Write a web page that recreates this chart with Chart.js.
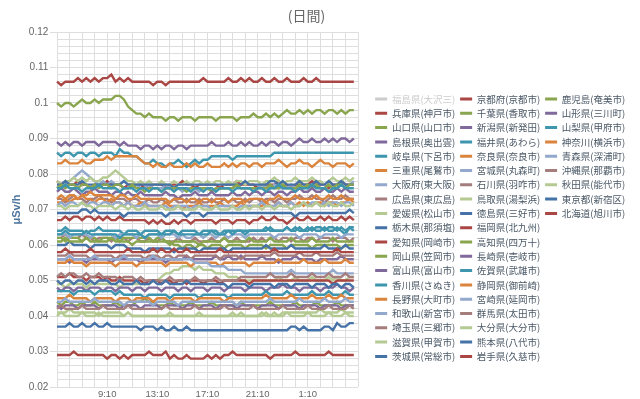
<!DOCTYPE html>
<html><head><meta charset="utf-8">
<script src="https://cdn.jsdelivr.net/npm/chart.js@4/dist/chart.umd.min.js"></script>
<style>html,body{margin:0;padding:0;background:#fff}canvas{display:block}</style>
</head><body>
<canvas id="c" width="640" height="399"></canvas>
<script>
const times = ['5:10','5:30','5:50','6:10','6:30','6:50','7:10','7:30','7:50','8:10','8:30','8:50',
'9:10','9:30','9:50','10:10','10:30','10:50','11:10','11:30','11:50','12:10','12:30','12:50',
'13:10','13:30','13:50','14:10','14:30','14:50','15:10','15:30','15:50','16:10','16:30','16:50',
'17:10','17:30','17:50','18:10','18:30','18:50','19:10','19:30','19:50','20:10','20:30','20:50',
'21:10','21:30','21:50','22:10','22:30','22:50','23:10','23:30','23:50','0:10','0:30','0:50',
'1:10','1:30','1:50','2:10','2:30','2:50','3:10','3:30','3:50','4:10','4:30','4:50','5:10'];
const xTickLabels = ['9:10','13:10','17:10','21:10','1:10'];
const hiddenSeries = ['福島県(大沢三)'];
const seriesNames = ['福島県(大沢三)','兵庫県(神戸市)','山口県(山口市)','島根県(奥出雲)','岐阜県(下呂市)','三重県(尾鷲市)','大阪府(東大阪)','広島県(東広島)','愛媛県(松山市)','栃木県(那須塩)','愛知県(岡崎市)','岡山県(笠岡市)','富山県(富山市)','香川県(さぬき)','長野県(大町市)','和歌山(新宮市)','埼玉県(三郷市)','滋賀県(甲賀市)','茨城県(常総市)',
'京都府(京都市)','千葉県(香取市)','新潟県(新発田)','福井県(あわら)','奈良県(奈良市)','宮城県(丸森町)','石川県(羽咋市)','鳥取県(湯梨浜)','徳島県(三好市)','福岡県(北九州)','高知県(四万十)','長崎県(壱岐市)','佐賀県(武雄市)','静岡県(御前崎)','宮崎県(延岡市)','群馬県(太田市)','大分県(大分市)','熊本県(八代市)','岩手県(久慈市)',
'鹿児島(奄美市)','山形県(三川町)','山梨県(甲府市)','神奈川(横浜市)','青森県(深浦町)','沖縄県(那覇市)','秋田県(能代市)','東京都(新宿区)','北海道(旭川市)'];

const fukushima = [.113,.112,.113,.113,.112,.113,.113,.114,.113,.112,.113,.113,
.113,.112,.113,.113,.113,.112,.113,.113,.112,.113,.113,.112,
.113,.113,.112,.113,.112,.113,.113,.113,.112,.113,.113,.112,
.113,.112,.113,.113,.113,.112,.113,.112,.113,.113,.112,.113,
.113,.113,.112,.113,.113,.112,.113,.113,.113,.112,.113,.113,
.112,.113,.113,.112,.113,.113,.113,.112,.113,.113,.112,.113];
const hyogo = [.078,.077,.078,.077,.077,.078,.077,.077,.076,.077,.077,.077,
.078,.077,.077,.077,.076,.077,.077,.077,.077,.076,.076,.077,
.077,.077,.076,.077,.077,.077,.078,.077,.077,.076,.077,.077,
.077,.077,.077,.076,.077,.077,.077,.078,.077,.077,.077,.077,
.076,.077,.077,.077,.077,.078,.077,.077,.076,.077,.077,.077,
.077,.078,.077,.077,.077,.076,.077,.077,.078,.077,.077,.077];
const yamaguchi = [.100,.099,.100,.100,.099,.100,.101,.100,.100,.101,.100,.101,
.101,.101,.102,.102,.101,.099,.098,.097,.097,.096,.097,.096,
.096,.096,.095,.096,.096,.095,.096,.096,.096,.095,.096,.096,
.096,.096,.095,.096,.096,.096,.096,.095,.096,.096,.096,.097,
.096,.096,.097,.096,.097,.096,.097,.098,.097,.097,.098,.097,
.098,.097,.098,.098,.097,.098,.098,.097,.098,.097,.098,.098];
const shimane = [.089,.088,.089,.088,.089,.089,.088,.089,.089,.089,.088,.089,
.089,.089,.089,.088,.089,.088,.088,.088,.087,.088,.088,.087,
.088,.087,.088,.088,.087,.088,.088,.087,.088,.088,.088,.088,
.088,.089,.088,.088,.088,.089,.088,.088,.089,.088,.089,.088,
.088,.089,.088,.089,.089,.088,.089,.089,.088,.089,.090,.089,
.089,.090,.089,.089,.090,.089,.090,.089,.090,.090,.089,.090];
const gifu = [.086,.085,.086,.086,.085,.086,.086,.085,.086,.086,.085,.086,
.086,.086,.085,.087,.086,.086,.085,.085,.084,.083,.083,.084,
.083,.083,.082,.083,.083,.084,.083,.082,.083,.084,.083,.084,
.084,.085,.085,.085,.085,.085,.084,.085,.085,.085,.085,.085,
.085,.085,.085,.085,.086,.086,.086,.086,.086,.086,.086,.086,
.086,.086,.086,.086,.086,.086,.086,.086,.086,.086,.086,.086];
const mie = [.083,.083,.084,.083,.083,.083,.084,.083,.083,.084,.084,.084,
.085,.084,.085,.085,.085,.085,.085,.085,.084,.083,.083,.082,
.083,.082,.082,.083,.082,.082,.082,.083,.082,.083,.082,.082,
.083,.082,.082,.082,.083,.082,.083,.082,.083,.083,.082,.083,
.083,.082,.083,.083,.083,.084,.083,.082,.083,.083,.084,.083,
.083,.082,.083,.084,.083,.083,.082,.083,.083,.083,.082,.083];
const osaka = [.076,.077,.077,.078,.079,.080,.081,.080,.079,.078,.077,.078,
.077,.078,.077,.077,.078,.077,.076,.077,.076,.076,.077,.076,
.076,.076,.077,.076,.076,.076,.075,.076,.076,.076,.075,.076,
.076,.076,.075,.076,.076,.076,.076,.077,.076,.076,.076,.076,
.076,.077,.076,.076,.077,.076,.076,.076,.077,.076,.076,.077,
.076,.076,.077,.076,.076,.077,.076,.076,.077,.076,.077,.078];
const hiroshima = [.073,.073,.072,.073,.074,.073,.073,.072,.073,.073,.074,.073,
.073,.072,.073,.073,.073,.072,.073,.073,.072,.072,.073,.072,
.072,.073,.072,.072,.073,.072,.072,.073,.072,.072,.073,.072,
.072,.073,.072,.072,.073,.072,.073,.072,.072,.073,.072,.073,
.073,.072,.073,.073,.072,.073,.073,.072,.073,.073,.074,.073,
.073,.074,.073,.073,.072,.073,.074,.073,.073,.074,.073,.073];
const ehime = [.078,.077,.078,.078,.079,.078,.079,.078,.079,.078,.078,.079,
.079,.080,.081,.080,.079,.078,.078,.077,.078,.077,.078,.077,
.077,.078,.077,.077,.078,.077,.077,.078,.077,.078,.078,.077,
.078,.077,.078,.078,.077,.078,.077,.078,.078,.077,.078,.078,
.078,.077,.078,.078,.079,.078,.077,.078,.078,.079,.078,.078,
.078,.079,.078,.078,.077,.078,.079,.078,.078,.079,.078,.079];
const tochigi = [.077,.077,.078,.077,.077,.077,.078,.077,.077,.077,.077,.077,
.077,.077,.077,.077,.078,.077,.077,.077,.077,.077,.077,.077,
.077,.077,.077,.077,.076,.077,.077,.077,.077,.077,.077,.077,
.077,.077,.077,.077,.077,.077,.077,.077,.077,.078,.077,.077,
.077,.077,.077,.078,.078,.077,.078,.077,.077,.077,.078,.077,
.077,.077,.078,.077,.077,.078,.077,.077,.078,.077,.077,.077];
const aichi = [.067,.067,.068,.067,.068,.068,.067,.068,.068,.067,.068,.067,
.068,.067,.067,.068,.067,.067,.067,.067,.067,.067,.066,.067,
.066,.067,.066,.066,.067,.066,.067,.067,.066,.067,.067,.067,
.067,.067,.066,.067,.067,.067,.066,.067,.067,.067,.066,.067,
.067,.068,.067,.067,.068,.067,.067,.066,.067,.068,.067,.067,
.068,.067,.067,.068,.067,.068,.067,.067,.068,.067,.068,.067];
const okayama = [.076,.077,.076,.077,.077,.076,.077,.077,.076,.077,.076,.077,
.077,.076,.077,.077,.076,.076,.077,.076,.076,.075,.076,.076,
.076,.075,.076,.076,.076,.076,.076,.075,.076,.076,.076,.076,
.076,.075,.076,.076,.076,.076,.076,.077,.076,.076,.076,.076,
.076,.076,.076,.077,.076,.076,.077,.076,.076,.076,.077,.076,
.077,.076,.077,.076,.076,.077,.076,.077,.077,.076,.077,.077];
const toyama = [.075,.076,.075,.075,.076,.075,.074,.075,.075,.076,.075,.075,
.075,.074,.075,.075,.074,.075,.074,.074,.075,.074,.074,.074,
.074,.074,.075,.074,.074,.073,.074,.074,.074,.075,.074,.074,
.074,.075,.074,.074,.074,.074,.075,.074,.074,.075,.074,.075,
.075,.074,.075,.075,.074,.075,.075,.074,.075,.075,.076,.075,
.075,.076,.075,.075,.076,.075,.075,.076,.075,.076,.075,.075];
const kagawa = [.076,.076,.077,.076,.076,.076,.075,.076,.076,.076,.077,.076,
.076,.076,.076,.075,.076,.076,.076,.075,.076,.076,.075,.076,
.076,.075,.076,.076,.075,.076,.076,.076,.075,.076,.076,.075,
.076,.076,.075,.076,.076,.076,.075,.076,.076,.076,.076,.075,
.076,.076,.075,.076,.076,.077,.076,.076,.076,.075,.076,.076,
.076,.077,.076,.076,.076,.075,.076,.076,.077,.076,.076,.076];
const nagano = [.072,.072,.073,.072,.073,.073,.074,.073,.073,.072,.073,.073,
.072,.073,.072,.072,.071,.072,.071,.071,.072,.071,.071,.071,
.071,.071,.072,.071,.071,.071,.070,.071,.071,.071,.072,.071,
.071,.071,.071,.072,.071,.071,.071,.071,.072,.071,.071,.071,
.071,.071,.072,.071,.071,.072,.071,.071,.072,.071,.072,.071,
.072,.071,.072,.072,.071,.072,.072,.071,.072,.072,.073,.072];
const wakayama = [.071,.072,.071,.072,.072,.071,.072,.071,.072,.072,.071,.072,
.072,.071,.072,.072,.071,.072,.071,.071,.071,.072,.071,.071,
.071,.071,.071,.070,.071,.071,.071,.071,.070,.071,.071,.071,
.071,.070,.071,.071,.071,.071,.071,.070,.071,.071,.071,.071,
.071,.072,.071,.071,.071,.072,.071,.071,.072,.071,.071,.072,
.071,.072,.072,.071,.072,.071,.072,.072,.071,.072,.072,.071];
const saitama = [.062,.062,.063,.062,.062,.062,.063,.062,.062,.061,.062,.062,
.062,.061,.062,.062,.062,.061,.062,.062,.061,.061,.062,.061,
.061,.062,.061,.061,.061,.062,.061,.061,.061,.062,.061,.061,
.061,.062,.061,.061,.062,.061,.061,.062,.061,.061,.061,.062,
.061,.062,.061,.062,.062,.061,.062,.062,.061,.062,.062,.061,
.062,.062,.061,.062,.062,.062,.061,.062,.062,.062,.061,.062];
const shiga = [.071,.071,.070,.071,.071,.071,.072,.071,.071,.070,.071,.071,
.071,.071,.070,.071,.071,.070,.071,.070,.070,.071,.070,.070,
.070,.071,.070,.070,.070,.071,.070,.070,.070,.070,.071,.070,
.070,.070,.071,.070,.070,.070,.071,.070,.070,.071,.070,.071,
.071,.070,.071,.071,.070,.071,.071,.071,.070,.071,.071,.072,
.071,.071,.072,.071,.071,.072,.071,.071,.072,.071,.071,.072];
const ibaraki = [.069,.069,.069,.069,.069,.069,.070,.070,.069,.070,.069,.069,
.069,.069,.069,.069,.068,.069,.069,.069,.069,.069,.069,.069,
.069,.069,.068,.069,.069,.069,.069,.068,.069,.069,.069,.068,
.069,.069,.069,.069,.069,.069,.069,.069,.069,.069,.069,.069,
.069,.069,.069,.069,.069,.069,.069,.069,.069,.068,.069,.069,
.069,.069,.069,.069,.069,.069,.069,.069,.069,.069,.070,.069];
const kyoto = [.106,.105,.106,.106,.106,.107,.106,.107,.106,.107,.106,.107,
.107,.108,.106,.107,.106,.107,.106,.106,.106,.106,.106,.105,
.106,.106,.105,.106,.106,.106,.106,.106,.106,.106,.106,.107,
.106,.106,.106,.106,.106,.107,.106,.106,.107,.106,.107,.106,
.106,.107,.106,.106,.107,.106,.106,.107,.106,.106,.106,.107,
.106,.106,.107,.106,.106,.106,.106,.106,.106,.106,.106,.106];
const chiba = [.062,.062,.061,.062,.062,.062,.061,.062,.062,.062,.061,.062,
.062,.062,.062,.061,.062,.062,.062,.062,.062,.062,.062,.061,
.062,.062,.061,.061,.060,.060,.059,.060,.060,.059,.060,.060,
.059,.060,.060,.060,.059,.060,.060,.060,.060,.059,.060,.060,
.060,.060,.059,.060,.060,.060,.060,.059,.060,.060,.060,.060,
.060,.059,.060,.060,.060,.060,.060,.060,.059,.060,.060,.060];
const niigata = [.056,.056,.056,.055,.056,.056,.056,.055,.056,.056,.056,.056,
.056,.055,.056,.056,.056,.056,.056,.056,.055,.056,.056,.056,
.056,.056,.055,.056,.056,.056,.056,.057,.056,.056,.056,.056,
.056,.056,.057,.056,.056,.057,.056,.056,.057,.056,.056,.056,
.056,.057,.056,.056,.056,.055,.056,.056,.056,.057,.056,.056,
.056,.056,.055,.056,.056,.056,.056,.056,.057,.056,.056,.056];
const fukui = [.064,.064,.065,.064,.064,.064,.064,.063,.064,.064,.065,.064,
.064,.064,.064,.064,.063,.064,.064,.064,.063,.064,.064,.064,
.064,.063,.064,.064,.064,.063,.064,.064,.064,.064,.063,.064,
.064,.064,.064,.063,.064,.064,.064,.064,.064,.064,.064,.064,
.064,.064,.065,.064,.064,.064,.064,.065,.064,.064,.065,.064,
.064,.065,.064,.064,.065,.064,.064,.065,.064,.063,.065,.064];
const nara = [.073,.074,.073,.074,.074,.073,.074,.074,.075,.074,.074,.074,
.074,.074,.073,.074,.074,.073,.073,.074,.073,.073,.073,.073,
.073,.073,.073,.072,.073,.073,.073,.072,.073,.073,.072,.073,
.073,.072,.073,.073,.073,.072,.073,.073,.073,.072,.073,.073,
.073,.073,.072,.073,.073,.074,.073,.073,.073,.074,.073,.073,
.073,.073,.074,.073,.073,.074,.073,.073,.074,.073,.073,.073];
const miyagi = [.063,.063,.063,.062,.063,.063,.063,.063,.062,.063,.063,.063,
.063,.063,.062,.063,.063,.063,.063,.062,.063,.062,.063,.063,
.063,.062,.063,.063,.063,.062,.063,.062,.062,.063,.063,.062,
.063,.063,.062,.063,.063,.062,.063,.063,.063,.062,.063,.063,
.063,.063,.063,.063,.062,.063,.063,.063,.063,.063,.062,.063,
.063,.063,.063,.062,.063,.063,.063,.063,.062,.063,.063,.063];
const ishikawa = [.057,.057,.057,.058,.057,.057,.057,.057,.056,.057,.057,.057,
.057,.057,.056,.057,.057,.057,.057,.057,.057,.056,.057,.057,
.057,.056,.057,.057,.056,.057,.057,.057,.056,.057,.057,.057,
.057,.057,.057,.056,.057,.057,.057,.057,.056,.057,.057,.057,
.057,.057,.057,.057,.058,.057,.057,.057,.057,.057,.058,.057,
.057,.057,.058,.057,.057,.057,.057,.058,.057,.057,.057,.057];
const tottori = [.049,.049,.048,.049,.049,.049,.049,.048,.049,.049,.049,.049,
.049,.049,.049,.048,.049,.049,.049,.049,.049,.049,.049,.050,
.050,.051,.052,.052,.053,.053,.054,.054,.054,.053,.054,.053,
.053,.053,.052,.052,.052,.051,.051,.051,.050,.050,.050,.050,
.050,.050,.050,.050,.050,.051,.050,.050,.050,.051,.050,.050,
.050,.051,.050,.050,.050,.051,.050,.051,.050,.050,.051,.051];
const tokushima = [.060,.060,.060,.061,.060,.060,.060,.060,.059,.060,.060,.060,
.060,.059,.060,.060,.060,.059,.059,.059,.059,.058,.059,.059,
.059,.059,.059,.059,.058,.059,.059,.059,.059,.059,.058,.059,
.059,.059,.059,.059,.059,.058,.059,.059,.059,.059,.059,.059,
.059,.059,.060,.059,.059,.059,.059,.059,.060,.059,.059,.059,
.059,.059,.059,.059,.060,.059,.059,.059,.059,.060,.059,.059];
const fukuoka = [.051,.051,.051,.052,.051,.051,.051,.050,.051,.051,.051,.050,
.051,.050,.050,.051,.050,.050,.050,.050,.050,.049,.050,.050,
.050,.049,.050,.050,.049,.050,.050,.049,.050,.050,.050,.049,
.050,.050,.050,.049,.050,.050,.050,.050,.050,.050,.049,.050,
.050,.050,.050,.050,.050,.050,.050,.050,.050,.050,.050,.050,
.050,.050,.050,.050,.050,.050,.049,.050,.050,.050,.050,.050];
const kochi = [.044,.043,.044,.044,.043,.043,.044,.043,.043,.044,.043,.043,
.043,.043,.044,.043,.043,.043,.043,.044,.044,.045,.044,.044,
.043,.043,.043,.044,.043,.043,.043,.043,.044,.043,.043,.043,
.043,.044,.043,.043,.043,.043,.043,.043,.044,.043,.043,.043,
.043,.043,.043,.044,.043,.043,.043,.043,.043,.044,.043,.043,
.043,.043,.044,.043,.043,.043,.043,.044,.043,.043,.043,.043];
const nagasaki = [.048,.047,.048,.048,.047,.048,.048,.047,.048,.048,.048,.047,
.048,.048,.047,.048,.048,.048,.047,.048,.048,.047,.048,.048,
.048,.047,.048,.048,.048,.047,.048,.048,.047,.048,.048,.048,
.047,.048,.048,.048,.047,.048,.048,.048,.048,.047,.048,.048,
.048,.048,.047,.048,.048,.048,.049,.048,.048,.048,.047,.048,
.048,.048,.048,.047,.048,.048,.048,.049,.048,.048,.047,.048];
const saga = [.047,.047,.047,.047,.046,.047,.047,.047,.047,.046,.047,.047,
.047,.047,.046,.047,.046,.046,.046,.046,.046,.045,.046,.046,
.046,.046,.046,.045,.046,.046,.046,.046,.046,.046,.045,.046,
.046,.046,.046,.046,.046,.045,.046,.046,.046,.046,.046,.046,
.046,.046,.047,.046,.046,.046,.046,.047,.046,.046,.046,.046,
.046,.047,.046,.046,.046,.047,.046,.046,.046,.047,.046,.046];
const shizuoka = [.055,.055,.055,.056,.055,.055,.055,.054,.055,.055,.055,.055,
.055,.055,.054,.055,.055,.055,.055,.054,.055,.055,.055,.055,
.055,.055,.054,.055,.055,.055,.055,.055,.054,.055,.055,.055,
.055,.055,.055,.054,.055,.055,.055,.055,.055,.055,.054,.055,
.055,.055,.055,.055,.055,.056,.055,.055,.055,.055,.055,.056,
.055,.055,.055,.055,.056,.055,.055,.055,.055,.056,.055,.055];
const miyazaki = [.056,.056,.056,.057,.056,.056,.056,.056,.056,.057,.056,.056,
.056,.056,.056,.056,.057,.056,.056,.056,.056,.056,.056,.057,
.056,.056,.056,.056,.056,.056,.056,.056,.056,.055,.055,.055,
.055,.054,.054,.054,.054,.053,.053,.053,.053,.052,.052,.052,
.052,.052,.052,.052,.052,.052,.052,.052,.053,.052,.052,.052,
.052,.052,.052,.052,.052,.052,.053,.052,.052,.052,.052,.052];
const gunma = [.051,.052,.051,.052,.052,.051,.051,.052,.051,.051,.052,.051,
.051,.051,.051,.050,.051,.051,.051,.050,.051,.050,.050,.050,
.050,.050,.050,.051,.050,.050,.050,.050,.050,.051,.050,.050,
.050,.050,.051,.050,.050,.050,.050,.050,.051,.051,.051,.051,
.051,.051,.051,.052,.051,.051,.051,.051,.052,.051,.051,.051,
.051,.052,.051,.051,.051,.052,.051,.051,.051,.052,.051,.051];
const oita = [.041,.041,.041,.042,.041,.041,.041,.041,.041,.041,.040,.041,
.041,.041,.041,.041,.040,.041,.040,.040,.040,.040,.040,.040,
.040,.040,.040,.040,.040,.040,.040,.040,.040,.040,.040,.040,
.040,.040,.040,.040,.040,.040,.040,.040,.041,.040,.040,.040,
.040,.041,.040,.040,.041,.040,.041,.041,.041,.041,.041,.041,
.041,.041,.041,.042,.041,.041,.041,.041,.042,.041,.041,.041];
const kumamoto = [.050,.049,.050,.050,.049,.050,.050,.049,.050,.049,.050,.050,
.050,.049,.049,.050,.049,.049,.049,.050,.049,.049,.049,.050,
.049,.049,.050,.049,.049,.049,.049,.050,.049,.049,.049,.049,
.049,.049,.049,.049,.049,.048,.049,.049,.049,.049,.048,.049,
.049,.049,.049,.049,.048,.049,.049,.049,.048,.049,.049,.049,
.049,.048,.049,.049,.049,.048,.049,.049,.048,.049,.049,.048];
const iwate = [.058,.058,.059,.058,.058,.058,.058,.058,.059,.058,.058,.058,
.058,.058,.058,.058,.058,.059,.058,.058,.058,.058,.058,.059,
.058,.059,.058,.058,.059,.058,.058,.059,.058,.058,.058,.058,
.058,.058,.058,.059,.058,.058,.058,.058,.058,.058,.058,.058,
.058,.058,.058,.058,.059,.058,.058,.058,.058,.058,.058,.058,
.058,.058,.058,.058,.058,.058,.058,.059,.058,.058,.058,.058];
const kagoshima = [.061,.061,.062,.061,.061,.061,.061,.062,.061,.061,.061,.061,
.061,.062,.061,.061,.061,.061,.060,.061,.061,.061,.061,.061,
.061,.061,.061,.060,.061,.061,.061,.061,.061,.061,.060,.061,
.061,.061,.061,.061,.062,.061,.061,.061,.061,.061,.062,.061,
.061,.061,.061,.062,.061,.061,.061,.061,.062,.061,.061,.061,
.061,.062,.061,.061,.061,.061,.062,.061,.061,.061,.061,.061];
const yamagata = [.043,.042,.043,.043,.043,.042,.043,.043,.043,.043,.042,.043,
.043,.043,.043,.042,.043,.043,.043,.043,.042,.043,.043,.043,
.043,.042,.043,.043,.043,.043,.042,.043,.043,.043,.042,.043,
.043,.043,.042,.043,.043,.043,.043,.042,.043,.043,.043,.043,
.042,.043,.043,.043,.043,.042,.043,.043,.043,.043,.042,.043,
.043,.043,.043,.042,.043,.043,.043,.043,.042,.043,.043,.043];
const yamanashi = [.063,.063,.064,.063,.063,.063,.063,.064,.063,.063,.063,.063,
.063,.063,.063,.062,.063,.063,.063,.063,.063,.062,.063,.063,
.063,.063,.063,.063,.064,.063,.063,.063,.063,.063,.063,.063,
.063,.064,.063,.063,.063,.064,.063,.064,.064,.063,.064,.064,
.064,.064,.064,.065,.064,.064,.064,.065,.064,.065,.064,.064,
.065,.064,.065,.065,.064,.065,.065,.064,.065,.064,.065,.065];
const kanagawa = [.045,.045,.045,.046,.045,.045,.045,.045,.044,.045,.045,.045,
.045,.045,.044,.045,.045,.045,.044,.045,.045,.045,.045,.044,
.045,.045,.045,.044,.045,.045,.045,.045,.045,.044,.045,.045,
.045,.045,.045,.045,.044,.045,.045,.045,.045,.045,.045,.045,
.045,.045,.046,.045,.045,.045,.045,.045,.046,.045,.045,.045,
.045,.046,.045,.045,.045,.046,.045,.045,.046,.045,.045,.045];
const aomori = [.044,.044,.045,.044,.044,.044,.044,.044,.044,.045,.044,.044,
.044,.044,.044,.044,.043,.044,.044,.044,.044,.044,.044,.043,
.044,.044,.044,.044,.044,.043,.044,.044,.044,.044,.044,.044,
.044,.044,.044,.044,.044,.044,.044,.043,.044,.044,.044,.044,
.044,.044,.044,.045,.044,.044,.044,.044,.044,.044,.045,.044,
.044,.044,.044,.044,.045,.044,.044,.044,.044,.045,.044,.044];
const okinawa = [.042,.043,.042,.042,.042,.042,.043,.042,.042,.042,.042,.043,
.042,.042,.042,.042,.042,.043,.042,.042,.042,.042,.042,.042,
.042,.042,.043,.042,.042,.042,.042,.042,.042,.043,.042,.042,
.042,.042,.042,.042,.043,.042,.042,.042,.042,.042,.042,.043,
.042,.042,.042,.042,.042,.042,.043,.042,.042,.042,.042,.042,
.043,.042,.042,.042,.042,.043,.042,.042,.042,.042,.043,.042];
const akita = [.040,.041,.040,.040,.040,.040,.041,.040,.040,.040,.041,.040,
.040,.040,.040,.040,.040,.041,.040,.040,.040,.040,.040,.040,
.040,.040,.040,.041,.040,.040,.040,.040,.040,.040,.041,.040,
.040,.040,.040,.040,.040,.040,.041,.040,.040,.040,.040,.040,
.040,.040,.041,.040,.040,.040,.040,.041,.040,.040,.040,.040,
.041,.040,.040,.040,.040,.041,.040,.040,.040,.041,.040,.040];
const tokyo = [.037,.037,.037,.038,.037,.037,.038,.037,.037,.038,.037,.037,
.038,.037,.037,.037,.037,.037,.037,.037,.036,.037,.037,.037,
.036,.037,.036,.036,.037,.036,.036,.037,.036,.036,.036,.036,
.036,.036,.036,.036,.036,.036,.036,.036,.036,.036,.036,.036,
.036,.036,.036,.036,.036,.036,.036,.036,.037,.037,.036,.037,
.036,.036,.036,.036,.037,.037,.036,.038,.037,.037,.038,.038];
const hokkaido = [.029,.029,.029,.029,.030,.029,.029,.029,.029,.029,.029,.029,
.028,.029,.029,.028,.029,.028,.029,.029,.029,.029,.030,.029,
.029,.029,.030,.028,.029,.028,.028,.029,.028,.028,.028,.028,
.029,.028,.029,.028,.029,.029,.030,.029,.029,.029,.029,.029,
.029,.029,.029,.028,.029,.029,.029,.029,.029,.030,.029,.029,
.029,.029,.029,.029,.029,.030,.029,.029,.029,.029,.029,.029];

const seriesValues = [fukushima,hyogo,yamaguchi,shimane,gifu,mie,osaka,hiroshima,ehime,tochigi,aichi,okayama,toyama,kagawa,nagano,wakayama,saitama,shiga,ibaraki,
kyoto,chiba,niigata,fukui,nara,miyagi,ishikawa,tottori,tokushima,fukuoka,kochi,nagasaki,saga,shizuoka,miyazaki,gunma,oita,kumamoto,iwate,
kagoshima,yamagata,yamanashi,kanagawa,aomori,okinawa,akita,tokyo,hokkaido];

// styling
const palette = ['#4572A7','#AA4643','#89A54E','#80699B','#3D96AE','#DB843D','#92A8CD','#A47D7C','#B5CA92'];
const GRID = '#dedede';
const CLEAR = 'rgba(0,0,0,0)';
const LEGEND_BOTTOM = 372;
const isMajor = v => Math.abs(v * 100 - Math.round(v * 100)) < 1e-6;

Chart.defaults.font.family = "'Liberation Sans','Noto Sans CJK JP',sans-serif";

const datasets = seriesNames.map((name, i) => ({
  label: name,
  data: seriesValues[i],
  borderColor: palette[i % palette.length],
  backgroundColor: palette[i % palette.length],
  borderWidth: 2.4,
  pointRadius: 0,
  tension: 0,
  fill: false,
  hidden: hiddenSeries.includes(name),
  order: -i
}));

// the legend keeps three columns of nineteen and may run to the canvas edge
const legendBox = {
  id: 'legendBox',
  beforeDraw(chart) {
    if (!chart.legend) return;
    chart.legend.bottom = LEGEND_BOTTOM;
    chart.legend.right = chart.width;
  }
};

new Chart(document.getElementById('c'), {
  type: 'line',
  data: { labels: times, datasets },
  options: {
    responsive: false,
    animation: false,
    devicePixelRatio: 1,
    events: [],
    layout: { padding: { left: 0, top: 0, right: 27, bottom: 0 } },
    plugins: {
      title: {
        display: true, text: '(日間)', color: '#666',
        font: { family: "'Noto Sans CJK JP',sans-serif", size: 14, weight: 'normal', lineHeight: 1.2 },
        padding: { top: 7.4, bottom: 7.8 }
      },
      tooltip: { enabled: false },
      legend: {
        position: 'right', align: 'start', maxWidth: 242.65,
        title: { display: true, text: ' ', font: { size: 10, lineHeight: 1 }, padding: { top: 0, bottom: 79.45 } },
        labels: {
          boxWidth: 12, boxHeight: 3, padding: 4.8,
          font: { family: "'Noto Sans CJK JP',sans-serif", size: 9.5 },
          color: '#4a5866',
          generateLabels(chart) {
            return chart.data.datasets.map((ds, i) => {
              const off = !chart.isDatasetVisible(i);
              return {
                text: ds.label,
                fillStyle: off ? '#cccccc' : ds.borderColor,
                strokeStyle: off ? '#cccccc' : ds.borderColor,
                lineWidth: 0,
                hidden: false,
                fontColor: off ? '#cccccc' : '#4a5866',
                datasetIndex: i
              };
            });
          }
        }
      }
    },
    scales: {
      x: {
        type: 'category',
        offset: false,
        border: { display: false },
        grid: { color: c => (c.index % 3 === 0 ? GRID : CLEAR), drawTicks: false, lineWidth: 1 },
        ticks: {
          autoSkip: false, maxRotation: 0, minRotation: 0, padding: 1.6, color: '#666',
          font: { size: 9.5 },
          callback(v) { const l = this.getLabelForValue(v); return xTickLabels.includes(l) ? l : ''; }
        },
        afterFit(s) { s.height = 12; }
      },
      y: {
        min: 0.02, max: 0.12,
        border: { display: false },
        grid: { color: GRID, lineWidth: 1, tickLength: 7, tickColor: c => (c.tick && isMajor(c.tick.value) ? GRID : CLEAR) },
        ticks: {
          stepSize: 0.002, autoSkip: false, padding: 1.7, color: '#666', font: { size: 10 },
          callback: v => (isMajor(v) ? String(Number(v.toFixed(2))) : '')
        },
        title: {
          display: true, text: 'μSv/h', color: '#4d759e',
          font: { size: 11, weight: 'bold' }, padding: { top: 10, bottom: 0 }
        },
        afterFit(s) { s.width = 57; }
      },
      y2: {
        position: 'right', display: true,
        grid: { display: false }, ticks: { display: false }, border: { display: false },
        afterFit(s) { s.width = 12.35; }
      }
    }
  },
  plugins: [legendBox]
});
</script>
</body></html>
